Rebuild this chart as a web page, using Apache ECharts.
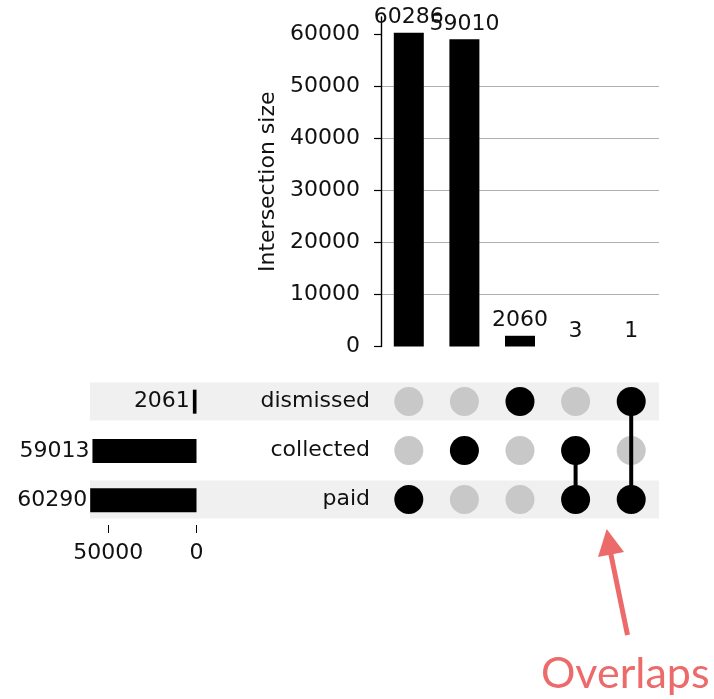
<!DOCTYPE html>
<html>
<head>
<meta charset="utf-8">
<script src="https://cdn.jsdelivr.net/npm/echarts@6/dist/echarts.min.js"></script>
<style>
  html, body { margin: 0; padding: 0; background: #fff; }
  #chart { width: 714px; height: 699px; }
</style>
</head>
<body>
<div id="chart"></div>
<script>
// sets, bottom row first
var setNames = ['paid', 'collected', 'dismissed'];
var setSizes = [60290, 59013, 2061];
// intersections, left to right
var interSizes = [60286, 59010, 2060, 3, 1];
var interMembers = [
    ['paid'],
    ['collected'],
    ['dismissed'],
    ['collected', 'paid'],
    ['dismissed', 'paid']
];
var shadedRows = [1, 0, 1];
var yTicks = [0, 10000, 20000, 30000, 40000, 50000, 60000];
var setTicks = [0, 50000];

var font = 'DejaVu Sans';
var fs = 22;
var txt = '#111';
var plain = function (v) { return String(v); };

var dots = [];
for (var i = 0; i < interMembers.length; i++) {
    for (var j = 0; j < setNames.length; j++) {
        var on = interMembers[i].indexOf(setNames[j]) >= 0;
        dots.push({
            value: [i, setNames[j]],
            itemStyle: { color: on ? '#000' : '#c8c8c8', opacity: 1 }
        });
    }
}

var series = [
    {
        // row shading
        type: 'bar', xAxisIndex: 3, yAxisIndex: 3,
        data: shadedRows, barWidth: 38, silent: true, z: -5,
        itemStyle: { color: '#f0f0f0' }
    },
    {
        type: 'bar', xAxisIndex: 0, yAxisIndex: 0,
        data: interSizes, barWidth: 30,
        itemStyle: { color: '#000' },
        label: { show: true, position: 'top', distance: 4, fontFamily: font, fontSize: fs, color: txt }
    },
    {
        type: 'bar', xAxisIndex: 2, yAxisIndex: 2,
        data: setSizes, barWidth: 24,
        itemStyle: { color: '#000' },
        label: { show: true, position: 'left', distance: 3, fontFamily: font, fontSize: fs, color: txt }
    },
    {
        type: 'scatter', xAxisIndex: 1, yAxisIndex: 1,
        data: dots, symbolSize: 29, z: 2,
        itemStyle: { opacity: 1 }
    }
];

// connectors for multi-set intersections
for (var k = 0; k < interMembers.length; k++) {
    if (interMembers[k].length < 2) continue;
    series.push({
        type: 'line', xAxisIndex: 1, yAxisIndex: 1,
        data: interMembers[k].map(function (s) { return [k, s]; }),
        symbol: 'none', z: 3,
        lineStyle: { color: '#000', width: 4 }
    });
}

var option = {
    animation: false,
    backgroundColor: '#fff',
    grid: [
        { left: 381, top: 17, width: 278, height: 329.5 },
        { left: 381, top: 377, width: 278, height: 147 },
        { left: 90, top: 377, width: 106.5, height: 148 },
        { left: 90, top: 377, width: 569, height: 147 }
    ],
    xAxis: [
        { gridIndex: 0, type: 'category', data: [0, 1, 2, 3, 4], show: false },
        { gridIndex: 1, type: 'category', data: [0, 1, 2, 3, 4], show: false },
        {
            gridIndex: 2, type: 'value', inverse: true, min: 0, max: 60400, interval: 50000,
            axisLine: { lineStyle: { color: '#000', width: 1.2 } },
            axisTick: { show: true, length: 8, customValues: setTicks, lineStyle: { color: '#000' } },
            axisLabel: { customValues: setTicks, formatter: plain, margin: 17, fontFamily: font, fontSize: fs, color: txt },
            splitLine: { show: true, showMinLine: false, showMaxLine: false, lineStyle: { color: '#b8b8b8', width: 1.2 } }
        },
        { gridIndex: 3, type: 'value', min: 0, max: 1, show: false }
    ],
    yAxis: [
        {
            gridIndex: 0, type: 'value', min: 0, max: 63300, interval: 10000,
            name: 'Intersection size', nameLocation: 'middle', nameGap: 102,
            nameTextStyle: { fontFamily: font, fontSize: fs, color: txt },
            axisLine: { show: true, lineStyle: { color: '#000', width: 1.4 } },
            axisTick: { show: true, length: 7, customValues: yTicks, lineStyle: { color: '#000', width: 1.2 } },
            axisLabel: { customValues: yTicks, formatter: plain, margin: 21, fontFamily: font, fontSize: fs, color: txt },
            splitLine: { show: true, showMinLine: false, showMaxLine: false, lineStyle: { color: '#b0b0b0', width: 1 } }
        },
        {
            gridIndex: 1, type: 'category', data: setNames,
            axisLine: { show: false }, axisTick: { show: false },
            axisLabel: { margin: 11, fontFamily: font, fontSize: fs, color: txt },
            splitLine: { show: false }
        },
        { gridIndex: 2, type: 'category', data: setNames, show: false },
        { gridIndex: 3, type: 'category', data: setNames, show: false }
    ],
    series: series,
    graphic: [
        {
            type: 'line', silent: true,
            shape: { x1: 627.5, y1: 635, x2: 610, y2: 550 },
            style: { stroke: '#ec6a6a', lineWidth: 5 }
        },
        {
            type: 'polygon', silent: true,
            shape: { points: [[606.7, 529], [598, 557], [624, 552]] },
            style: { fill: '#ec6a6a' }
        },
        {
            type: 'text', silent: true, left: 541, top: 653,
            style: { text: 'Overlaps', fontFamily: 'Lato', fontSize: 43, fill: '#ec6a6a' }
        }
    ]
};

var chart = echarts.init(document.getElementById('chart'));
chart.setOption(option);
</script>
</body>
</html>
